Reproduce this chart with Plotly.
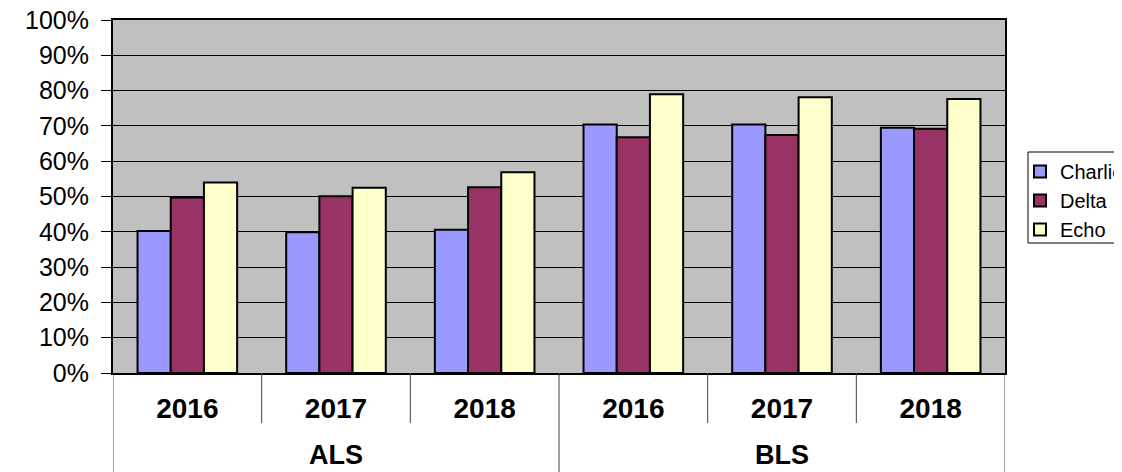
import plotly.graph_objects as go

groups = ["ALS", "ALS", "ALS", "BLS", "BLS", "BLS"]
years = ["2016", "2017", "2018", "2016", "2017", "2018"]
charlie = [0.402, 0.399, 0.406, 0.704, 0.704, 0.695]
delta = [0.497, 0.501, 0.526, 0.668, 0.674, 0.692]
echo = [0.540, 0.525, 0.569, 0.790, 0.781, 0.776]
series_names = ["Charlie", "Delta", "Echo"]
series_colors = ["#9999FF", "#993366", "#FFFFCC"]

cats = [g + " " + y for g, y in zip(groups, years)]

OFF = 8  # page body margin
W, H = 1122 - OFF, 472 - OFF
L, R, T, B = 113 - OFF, 117, 20 - OFF, 99
pw = W - L - R
ph = H - T - B


def px_x(x):  # screen px -> paper x
    return (x - OFF - L) / pw


def px_y(y):  # screen px -> paper y
    return (H - B - (y - OFF)) / ph


fig = go.Figure()
for name, vals, col in zip(series_names, [charlie, delta, echo], series_colors):
    fig.add_trace(go.Bar(
        x=cats, y=vals, name=name,
        marker=dict(color=col, line=dict(color="black", width=2)),
    ))

shapes = []
# year dividers
for i in range(len(cats) - 1):
    if groups[i] != groups[i + 1]:
        continue
    shapes.append(dict(type="line", xref="x", yref="paper", x0=i + 0.5, x1=i + 0.5,
                       y0=0, y1=px_y(423), line=dict(color="#444", width=1)))
# group dividers
bounds = [-0.5] + [i + 0.5 for i in range(len(cats) - 1) if groups[i] != groups[i + 1]] + [len(cats) - 0.5]
for b in bounds:
    shapes.append(dict(type="line", xref="x", yref="paper", x0=b, x1=b,
                       y0=0, y1=px_y(475), line=dict(color="#444", width=1)))
# legend frame
shapes.append(dict(type="rect", xref="paper", yref="paper",
                   x0=px_x(1028), x1=px_x(1135), y0=px_y(243), y1=px_y(152),
                   line=dict(color="black", width=1), fillcolor="white", layer="below"))

annotations = []
seen = []
for g in groups:
    if g in seen:
        continue
    seen.append(g)
    idx = [i for i, gg in enumerate(groups) if gg == g]
    annotations.append(dict(text="<b>" + g + "</b>", xref="x", yref="paper",
                            x=sum(idx) / len(idx), y=px_y(455), yanchor="middle",
                            showarrow=False, font=dict(size=27, color="black",
                                                        family="Arial, Liberation Sans")))

fig.update_layout(
    width=W, height=H,
    margin=dict(l=L, r=R, t=T, b=B, pad=0, autoexpand=False),
    paper_bgcolor="white", plot_bgcolor="#C0C0C0",
    barmode="group", bargap=0.33, bargroupgap=0,
    font=dict(family="Arial, Liberation Sans", color="black"),
    shapes=shapes, annotations=annotations,
    legend=dict(xref="container", yref="container",
                x=(1020 - OFF) / W, y=1 - (152 - OFF) / H,
                xanchor="left", yanchor="top", bgcolor="rgba(0,0,0,0)",
                borderwidth=0,
                font=dict(size=20, family="Arial, Liberation Sans", color="black"),
                itemwidth=30, tracegroupgap=0),
    showlegend=True,
)
fig.update_yaxes(range=[0, 1], dtick=0.1, tickformat=".0%",
                 showgrid=True, gridcolor="black", gridwidth=1,
                 showline=True, linecolor="black", linewidth=2, mirror=True,
                 ticks="outside", ticklen=10, tickcolor="black",
                 tickfont=dict(size=25), zeroline=False, automargin=False,
                 ticklabelstandoff=7, ticklabeloverflow="allow")
fig.update_xaxes(tickvals=cats, ticktext=["<b>" + y + "</b>" for y in years],
                 tickfont=dict(size=28),
                 showline=True, linecolor="black", linewidth=2, mirror=True,
                 ticks="", ticklabelstandoff=9, range=[-0.5, 5.5], automargin=False)

fig.write_html("out.html")
